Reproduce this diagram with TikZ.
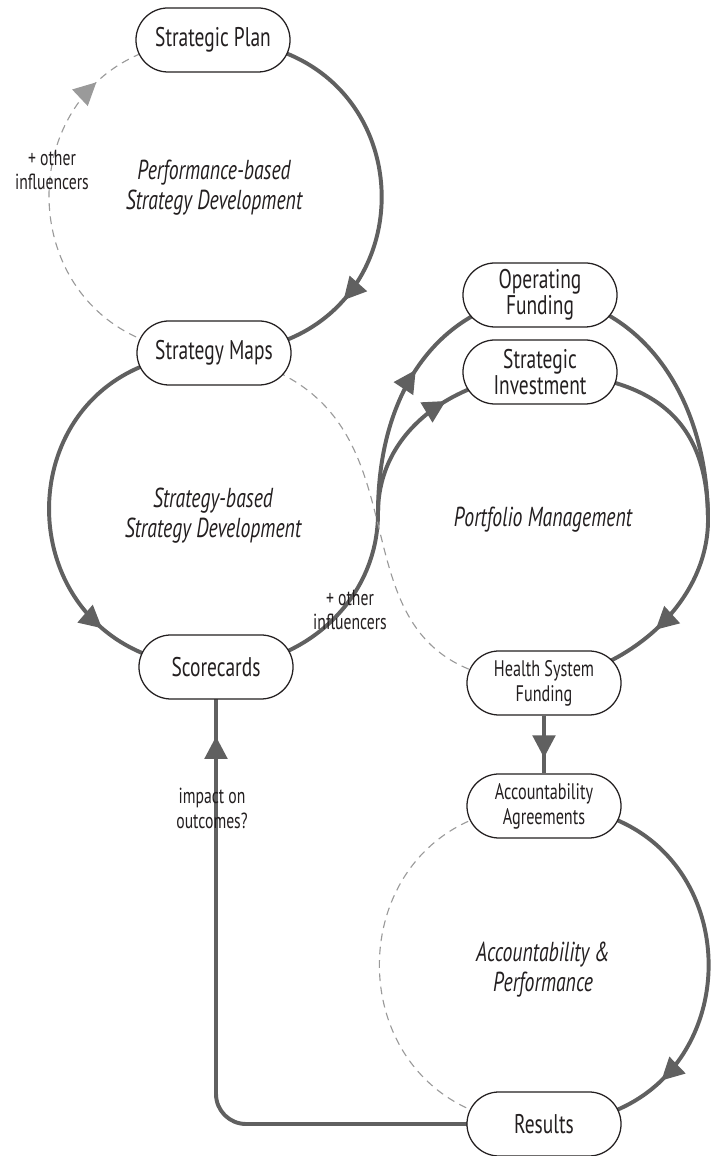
\documentclass[tikz,border=0pt]{standalone}
\usepackage{fontspec}
\setmainfont[FakeStretch=0.72]{PT Sans}
\usetikzlibrary{arrows.meta,decorations.markings,backgrounds}
\definecolor{linegray}{HTML}{606060}
\definecolor{dashgray}{HTML}{9A9A9A}
\definecolor{inkblack}{HTML}{231F20}
\begin{document}
\begin{tikzpicture}[x=0.025cm, y=0.025cm,
  box/.style={draw=inkblack, line width=0.9pt, fill=white, rounded corners=0.8cm,
    minimum width=3.85cm, minimum height=1.6cm, inner sep=0pt, align=center,
    text=inkblack, font=\fontsize{19.2}{18.6}\selectfont},
  smallbox/.style={box, font=\fontsize{16}{17.8}\selectfont},
  theme/.style={align=center, text=inkblack, font=\itshape\fontsize{19.5}{21.3}\selectfont},
  note/.style={align=center, text=inkblack, font=\fontsize{15.5}{17.7}\selectfont},
  flow/.style={draw, color=linegray, line width=2.8pt},
  fade/.style={draw, color=dashgray, line width=0.8pt, dash pattern=on 5.5pt off 4pt},
  tipat/.style={postaction={decorate}, decoration={markings,
    mark=at position #1 with {\arrow{Triangle[length=16pt,width=16pt]}}}}]
\useasboundingbox (0,0) rectangle (715,1156);

\node[box] (plan) at (213,1116) {Strategic Plan};
\node[box] (maps) at (214,803) {Strategy Maps};
\node[box] (cards) at (216,489) {Scorecards};
\node[box] (opfund) at (540,861) {Operating\\Funding};
\node[box] (strinv) at (540,784) {Strategic\\Investment};
\node[smallbox] (hsfund) at (544,473) {Health System\\Funding};
\node[smallbox] (agree) at (544,350) {Accountability\\Agreements};
\node[box] (results) at (544,32) {Results};

\coordinate (split) at (378,643);
\coordinate (join) at (708,636);

\node[theme] (perf) at (214,968) {Performance-based\\Strategy Development};
\node[theme] (strat) at (213,640) {Strategy-based\\Strategy Development};
\node[theme] (port) at (543,636) {Portfolio Management};
\node[theme] (acct) at (543,186) {Accountability \&\\Performance};
\node[note] (infl1) at (52,986) {+ other\\influencers};
\node[note] (infl2) at (350,546) {+ other\\influencers};
\node[note] (impact) at (212,348) {impact on\\outcomes?};

\begin{scope}[on background layer]
\draw[flow, tipat=0.72] (plan.center) to[out=0, in=0, looseness=1.83] (maps.center);
\draw[fade, tipat=0.75] (maps.center) to[out=180, in=180, looseness=1.79] (plan.center);
\draw[flow, tipat=0.76] (maps.center) to[out=180, in=180, looseness=1.8] (cards.center);
\draw[flow] (cards.center) to[out=0, in=-90] (split);
\draw[flow, tipat=0.5] (split) .. controls (378,766) and (440,851) .. (opfund.center);
\draw[flow, tipat=0.58] (split) .. controls (378,720) and (445,775) .. (strinv.center);
\draw[flow] (opfund.center) .. controls (640,855) and (708,760) .. (join);
\draw[flow] (strinv.center) .. controls (650,780) and (708,740) .. (join);
\draw[flow, tipat=0.5] (join) .. controls (708,560) and (640,490) .. (hsfund.center);
\draw[fade] (maps.center) .. controls (470,760) and (290,480) .. (hsfund.center);
\draw[flow, tipat=0.73] (hsfund) -- (agree);
\draw[flow, tipat=0.75] (agree.center) to[out=0, in=0, looseness=1.77] (results.center);
\draw[fade] (results.center) to[out=180, in=180, looseness=1.77] (agree.center);
\draw[flow, tipat=0.91, rounded corners=0.75cm] (results.center) -| (cards.center);
\end{scope}

\end{tikzpicture}
\end{document}
